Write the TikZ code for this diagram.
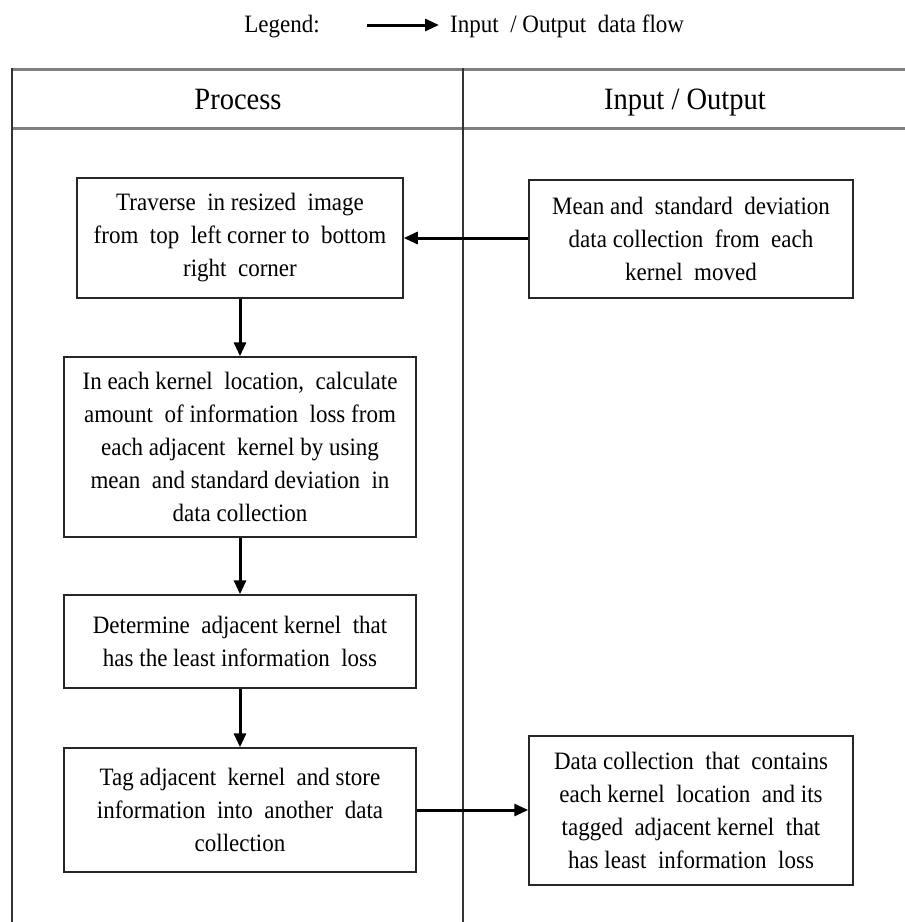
\documentclass[tikz,border=0pt]{standalone}
\usepackage{fontspec}
\setmainfont{Liberation Serif}[FakeStretch=0.92]
\usetikzlibrary{arrows.meta}

\tikzset{
  boxtext/.style={font=\fontsize{25}{33}\selectfont, align=center},
  stepbox/.style={boxtext, draw=black!85, line width=1.5pt, inner sep=0pt, anchor=center},
  flow/.style={draw=black, line width=3pt, -{Triangle[length=14pt,width=12pt]}},
  lanerule/.style={draw=black!50, line width=3pt},
  lanewall/.style={draw=black!80, line width=1.2pt},
  lanehead/.style={font=\fontsize{31}{36}\selectfont, anchor=base, inner sep=0pt},
}

\begin{document}
\begin{tikzpicture}[x=1pt, y=-1pt]
  \useasboundingbox (0,0) rectangle (905,922);

  % legend
  \node[boxtext, anchor=base east, inner sep=0pt] (leg) at (320,32) {Legend:};
  \coordinate (legA) at (367,25);
  \coordinate (legB) at (439,25);
  \draw[flow] (legA) -- (legB);
  \node[boxtext, anchor=base west, inner sep=0pt] (legtxt) at (450,32) {Input~ /~Output~ data~flow};

  % swimlane frame
  \draw[lanerule] (12,69) -- (905,69);
  \draw[lanerule] (12,128) -- (905,128);
  \draw[lanewall] (12,68) -- (12,922);
  \draw[lanewall] (463,68) -- (463,922);
  \node[lanehead] (hproc) at (238,109) {Process};
  \node[lanehead] (hio) at (685,109) {Input / Output};

  % process lane
  \node[stepbox, minimum width=326pt, minimum height=120pt] (s1) at (240,238)
    {Traverse~ in resized~ image\\from~ top~ left corner to~ bottom\\right~ corner};
  \node[stepbox, minimum width=352pt, minimum height=180pt] (s2) at (240,447)
    {In each kernel~ location,~ calculate\\amount~ of information~ loss from\\each adjacent~ kernel by using\\mean~ and standard deviation~ in\\data collection};
  \node[stepbox, minimum width=352pt, minimum height=93pt] (s3) at (240,641.5)
    {Determine~ adjacent kernel~ that\\has the least information~ loss};
  \node[stepbox, minimum width=352pt, minimum height=124pt] (s4) at (240,810)
    {Tag adjacent~ kernel~ and store\\information~ into~ another~ data\\collection};

  % input / output lane
  \node[stepbox, minimum width=324pt, minimum height=118pt] (d1) at (691,239)
    {Mean and~ standard~ deviation\\data collection~ from~ each\\kernel~ moved};
  \node[stepbox, minimum width=324pt, minimum height=149pt] (d2) at (691,810.5)
    {Data collection~ that~ contains\\each kernel~ location~ and its\\tagged~ adjacent kernel~ that\\has least~ information~ loss};

  % flows
  \draw[flow] (d1.west |- s1.east) -- (s1.east);
  \draw[flow] (s1.south) -- (s2.north);
  \draw[flow] (s2.south) -- (s3.north);
  \draw[flow] (s3.south) -- (s4.north);
  \draw[flow] (s4.east) -- (d2.west |- s4.east);
\end{tikzpicture}
\end{document}
